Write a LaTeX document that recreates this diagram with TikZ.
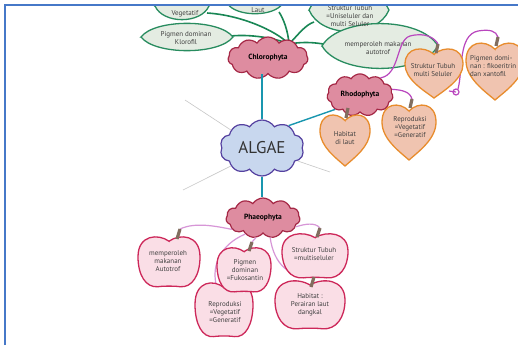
\documentclass[tikz,border=0pt]{standalone}
\usepackage{fontspec}
\setmainfont{PT Sans}
\usetikzlibrary{shapes.symbols}
\definecolor{leaffill}{RGB}{228,236,226}
\definecolor{leafdraw}{RGB}{40,140,95}
\definecolor{greenline}{RGB}{25,135,85}
\definecolor{tealline}{RGB}{25,150,175}
\definecolor{cloudpink}{RGB}{222,140,160}
\definecolor{clouddraw}{RGB}{165,40,70}
\definecolor{hfill}{RGB}{240,196,176}
\definecolor{hdraw}{RGB}{232,140,45}
\definecolor{afill}{RGB}{250,222,230}
\definecolor{adraw}{RGB}{205,40,90}
\definecolor{magline}{RGB}{185,70,190}
\definecolor{lpurple}{RGB}{215,150,215}
\definecolor{stemcol}{RGB}{130,110,95}
\definecolor{algfill}{RGB}{200,215,238}
\definecolor{algdraw}{RGB}{85,65,160}
\definecolor{framecol}{RGB}{70,120,200}
\begin{document}
\begin{tikzpicture}[x=1pt,y=-1pt,
  txt/.style={font=\fontsize{7}{7.8}\selectfont, align=center, text=black!75, inner sep=0},
  cl/.style={cloud, cloud puffs=11, cloud puff arc=115, draw=clouddraw, fill=cloudpink, line width=1.2pt, inner sep=0, font=\bfseries\fontsize{7.5}{8}\selectfont},
  leafpic/.style={draw=leafdraw, fill=leaffill, line width=1.3pt},
  heartpic/.style={draw=hdraw, fill=hfill, line width=1.3pt},
  applepic/.style={draw=adraw, fill=afill, line width=1.3pt},
  stemline/.style={draw=stemcol, line width=3.2pt},
  gline/.style={draw=greenline, line width=1.6pt},
  tline/.style={draw=tealline, line width=1.4pt},
  mline/.style={draw=magline, line width=1.2pt},
  pline/.style={draw=lpurple, line width=1.2pt},
  grayline/.style={draw=black!22, line width=0.6pt},
  leaf/.pic={\path[pic actions] (-1,0) .. controls (-0.7,-1.3) and (0.7,-1.3) .. (1,0) .. controls (0.7,1.3) and (-0.7,1.3) .. cycle;},
  heart/.pic={\path[pic actions] (0,-0.75) .. controls (0.35,-1.1) and (1,-1.05) .. (1,-0.35) .. controls (1,0.25) and (0.35,0.7) .. (0,1) .. controls (-0.35,0.7) and (-1,0.25) .. (-1,-0.35) .. controls (-1,-1.05) and (-0.35,-1.1) .. cycle;},
  apple/.pic={\path[pic actions] (0,-0.8) .. controls (0.35,-1.1) and (1,-1.05) .. (1,-0.2) .. controls (1,0.5) and (0.75,1) .. (0.35,0.95) .. controls (0.2,0.92) and (-0.2,0.92) .. (-0.35,0.95) .. controls (-0.75,1) and (-1,0.5) .. (-1,-0.2) .. controls (-1,-1.05) and (-0.35,-1.1) .. cycle;}
]
\useasboundingbox (0,0) rectangle (518,345);
\fill[white] (0,0) rectangle (518,345);
\begin{scope}
\clip (6,6) rectangle (518,345);
% coordinates
\coordinate (gc) at (289,44);
\coordinate (l1e) at (207,13);
\coordinate (l2e) at (279,12);
\coordinate (l3e) at (231,36);
\coordinate (l4e) at (314,22);
\coordinate (l5e) at (323,44);
% green connectors
\draw[gline] (gc) .. controls (275,30) and (240,15) .. (l1e);
\draw[gline] (gc) .. controls (288,30) and (283,18) .. (l2e);
\draw[gline] (gc) .. controls (275,38) and (250,34) .. (l3e);
\draw[gline] (gc) .. controls (298,35) and (305,25) .. (l4e);
\draw[gline] (gc) .. controls (300,42) and (312,42) .. (l5e);
% leaves
\pic[leafpic, xscale=27, yscale=14] at (182,6) {leaf};
\pic[leafpic, xscale=28, yscale=11] at (255,3) {leaf};
\pic[leafpic, xscale=46, yscale=14] at (187,37) {leaf};
\pic[leafpic, xscale=40, yscale=22] at (349,10) {leaf};
\pic[leafpic, xscale=58, yscale=23] at (380,46) {leaf};
\node[txt] (tveg) at (185,14) {Vegetatif};
\node[txt] (tlaut) at (258,10) {Laut};
\node[txt] (tpig) at (186,38) {Pigmen dominan\\Klorofil};
\node[txt] (tstr) at (350,16) {Struktur Tubuh\\=Uniseluler dan\\multi Seluler};
\node[txt] (tmem) at (378,48) {memperoleh makanan\\autotrof};
% stems coordinates
\coordinate (h1s) at (438,44); \coordinate (h1b) at (436,53);
\coordinate (h2s) at (498,37); \coordinate (h2b) at (496,46);
\coordinate (h3s) at (348,108); \coordinate (h3b) at (346,118);
\coordinate (h4s) at (412,99); \coordinate (h4b) at (410,108);
\coordinate (a1s) at (180,229); \coordinate (a1b) at (177,239);
\coordinate (a2s) at (252,242); \coordinate (a2b) at (249,251);
\coordinate (a3t) at (216,284);
\coordinate (a4s) at (320,228); \coordinate (a4b) at (317,237);
\coordinate (a5s) at (314,277); \coordinate (a5b) at (311,287);
% ALGAE and gray lines
\node[cloud, cloud puffs=10, cloud puff arc=115, aspect=1.5, draw=algdraw, fill=algfill, line width=1.2pt, minimum width=84pt, minimum height=56pt, inner sep=0, font=\fontsize{17}{17}\selectfont, text=black!80] (alg) at (262,148) {ALGAE};
\coordinate (g1) at (185,100);
\coordinate (g2) at (183,190);
\coordinate (g3) at (330,172);
\draw[grayline] (alg.150) -- (g1);
\draw[grayline] (alg.210) -- (g2);
\draw[grayline] (alg.-20) -- (g3);
% clouds
\node[cl, aspect=1.9, minimum width=80pt, minimum height=42pt] (chl) at (268,58) {Chlorophyta};
\node[cl, aspect=1.55, minimum width=66pt, minimum height=42pt] (rho) at (360,95) {Rhodophyta};
\node[cl, aspect=1.85, minimum width=74pt, minimum height=40pt] (pha) at (263,218) {Phaeophyta};
\draw[tline] (alg.north) -- (alg.north |- chl.south);
\draw[tline] (alg.40) -- (rho.210);
\draw[tline] (alg.south) -- (alg.south |- pha.north);
% magenta connectors
\draw[mline] (rho.10) .. controls (403,90) and (410,92) .. (h4s);
\draw[mline] (rho.40) .. controls (400,75) and (396,40) .. (410,36) .. controls (425,32) and (435,38) .. (h1s);
\coordinate (loop) at (456,92);
\draw[mline] (loop) circle (3pt);
\draw[mline] (449,91) -- (loop.west);
\draw[mline] (458,89) .. controls (463,70) and (458,35) .. (478,31) .. controls (490,29) and (496,31) .. (h2s);
% orange hearts
\pic[heartpic, xscale=29, yscale=25] at (434,73) {heart};
\pic[heartpic, xscale=29, yscale=29] at (495,71) {heart};
\pic[heartpic, xscale=25, yscale=26] at (345,140) {heart};
\pic[heartpic, xscale=27, yscale=28] at (409,132) {heart};
\draw[stemline] (h1b) -- (h1s);
\draw[stemline] (h2b) -- (h2s);
\draw[stemline] (h3b) -- (h3s);
\draw[stemline] (h4b) -- (h4s);
\node[txt] (th1) at (433,70) {Struktur Tubuh\\multi Seluler};
\node[txt, anchor=west, align=left] (th2) at (470,66) {Pigmen domi-\\nan : fikoeritrin\\dan xantofil};
\node[txt] (th3) at (345,138) {Habitat\\di laut};
\node[txt] (th4) at (410,127) {Reproduksi\\=Vegetatif\\=Generatif};
% phaeophyta connectors
\draw[pline] (pha.200) .. controls (215,226) and (195,222) .. (a1s);
\draw[pline] (pha.250) -- (a2s);
\draw[pline] (pha.222) .. controls (220,245) and (212,265) .. (a3t);
\draw[pline] (pha.-15) .. controls (305,224) and (315,222) .. (a4s);
\draw[pline] (pha.290) .. controls (274,265) and (290,278) .. (a5s);
% apples
\pic[applepic, xscale=31, yscale=26] at (169,262) {apple};
\pic[applepic, xscale=29, yscale=28] at (224,310) {apple};
\pic[applepic, xscale=27, yscale=23] at (244,270) {apple};
\pic[applepic, xscale=33, yscale=23] at (315,256) {apple};
\pic[applepic, xscale=35, yscale=25] at (310,305) {apple};
\draw[stemline] (a1b) -- (a1s);
\draw[stemline] (a2b) -- (a2s);
\draw[stemline] (a4b) -- (a4s);
\draw[stemline] (a5b) -- (a5s);
\node[txt] (ta1) at (168,261) {memperoleh\\makanan\\Autotrof};
\node[txt] (ta2) at (245,270) {Pigmen\\dominan\\=Fukosantin};
\node[txt] (ta3) at (225,312) {Reproduksi\\=Vegetatif\\=Generatif};
\node[txt] (ta4) at (314,254) {Struktur Tubuh\\=multiseluler};
\node[txt] (ta5) at (310,305) {Habitat :\\Perairan laut\\dangkal};
\end{scope}
\draw[draw=framecol, line width=2pt] (5,345) -- (5,5) -- (518,5);
\end{tikzpicture}
\end{document}
